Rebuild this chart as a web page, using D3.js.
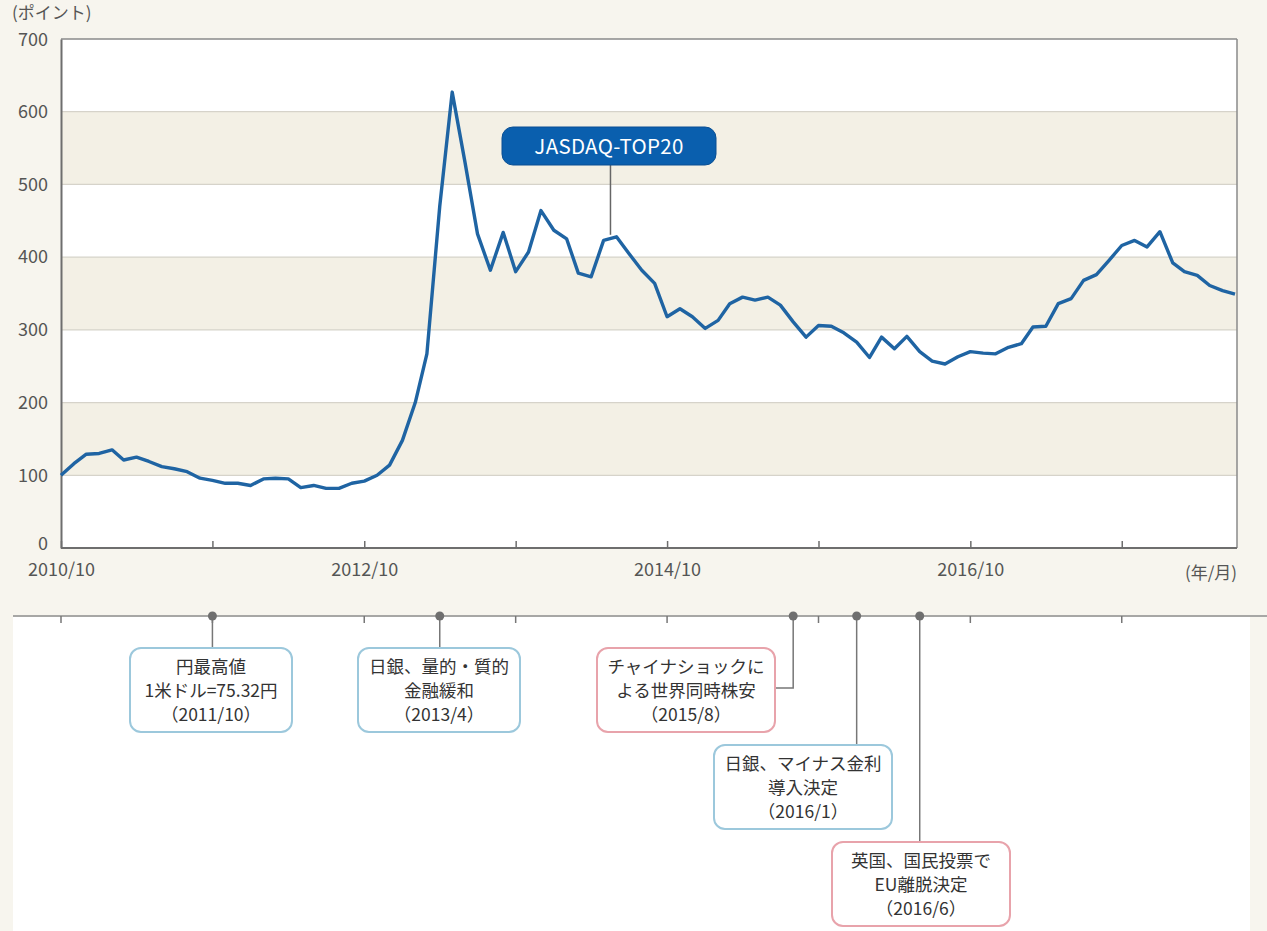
<!DOCTYPE html>
<html><head><meta charset="utf-8">
<script src="https://cdn.jsdelivr.net/npm/d3@7/dist/d3.min.js"></script>
<style>
html,body{margin:0;padding:0;background:#f7f5ee;}
svg{display:block;}
text{font-family:"Noto Sans CJK JP","Noto Sans",sans-serif;}
</style></head>
<body>
<svg id="c" width="1267" height="931"></svg>
<script>
// ---- data ----
const startMonth = "2010-10";
const values = [100,116,129,130,135,121,125,119,112,109,105,96,
  93,89,89,86,95,96,95,83,86,82,82,89,
  92,100,114,148,200,267,470,627,530,432,382,434,
  380,407,464,437,425,378,373,423,428,405,382,364,
  318,329,318,302,313,336,345,341,345,334,311,290,
  306,305,296,283,262,290,274,291,270,257,253,263,
  270,268,267,276,281,304,305,336,343,368,376,396,
  416,423,414,435,392,380,375,361,354,349];
const yTicks = [0,100,200,300,400,500,600,700];
const xTickMonths = ["2010-10","2011-10","2012-10","2013-10","2014-10","2015-10","2016-10","2017-10"];
const xTickLabels = ["2010/10","","2012/10","","2014/10","","2016/10",""];
const seriesName = "JASDAQ-TOP20";
const events = [
  {date:"2011-10", lines:["円最高値","1米ドル=75.32円","（2011/10）"], kind:"blue"},
  {date:"2013-04", lines:["日銀、量的・質的","金融緩和","（2013/4）"], kind:"blue"},
  {date:"2015-08", lines:["チャイナショックに","よる世界同時株安","（2015/8）"], kind:"red"},
  {date:"2016-01", lines:["日銀、マイナス金利","導入決定","（2016/1）"], kind:"blue"},
  {date:"2016-06", lines:["英国、国民投票で","EU離脱決定","（2016/6）"], kind:"red"}
];
// ---- layout ----
const W=1267,H=931;
const L=61,R=1237,T=39,B=548;
const parse = d3.timeParse("%Y-%m");
const t0 = parse(startMonth);
const dates = values.map((v,i)=>d3.timeMonth.offset(t0,i));
const data = values.map((v,i)=>({d:dates[i],v}));
const x = d3.scaleTime().domain([t0, d3.timeMonth.offset(t0, values.length-1)]).range([L, 1235]);
const y = d3.scaleLinear().domain([0,700]).range([B,T]);
const numFont = "'Open Sans','Noto Sans',sans-serif";

const svg = d3.select("#c");
svg.append("rect").attr("width",W).attr("height",H).attr("fill","#f7f5ee");
// lower white panel
svg.append("rect").attr("x",13).attr("y",617).attr("width",1237).attr("height",H-617).attr("fill","#ffffff");

// plot background
svg.append("rect").attr("x",L).attr("y",T).attr("width",R-L).attr("height",B-T).attr("fill","#ffffff");
// bands
[100,300,500].forEach(v=>{
  svg.append("rect").attr("x",L).attr("y",y(v+100)).attr("width",R-L).attr("height",y(v)-y(v+100)).attr("fill","#f3f0e5");
});
// grid
svg.append("g").selectAll("line").data(yTicks.filter(v=>v>0 && v<700)).join("line")
  .attr("x1",L).attr("x2",R).attr("y1",d=>y(d)).attr("y2",d=>y(d))
  .attr("stroke","#d6d3ca").attr("stroke-width",1.2);
// frame
svg.append("line").attr("x1",L).attr("x2",R).attr("y1",T).attr("y2",T).attr("stroke","#8a8a8a").attr("stroke-width",1.5);
svg.append("line").attr("x1",R).attr("x2",R).attr("y1",T).attr("y2",B).attr("stroke","#8a8a8a").attr("stroke-width",1.5);

// y axis
const yAxis = d3.axisLeft(y).tickValues(yTicks).tickSize(0).tickPadding(13);
const gy = svg.append("g").attr("transform",`translate(${L},0)`).call(yAxis);
gy.select(".domain").attr("stroke","#6e6e6e").attr("stroke-width",2);
gy.selectAll("text").attr("font-size",18).attr("fill","#555").attr("font-family",numFont);
gy.selectAll(".tick").filter(d=>d===700).select("text").attr("dy","0.36em");
gy.selectAll(".tick").filter(d=>d===0).select("text").attr("dy","0.1em");

// x axis
const xtv = xTickMonths.map(parse);
const xAxis = d3.axisBottom(x).tickValues(xtv).tickSizeInner(-7).tickSizeOuter(0).tickPadding(15)
  .tickFormat((d,i)=>xTickLabels[i]);
const gx = svg.append("g").attr("transform",`translate(0,${B})`).call(xAxis);
gx.select(".domain").attr("stroke","#6e6e6e").attr("stroke-width",2).attr("d",`M${L},0H${R}`);
gx.selectAll(".tick line").attr("stroke","#6e6e6e").attr("stroke-width",1.5);
gx.selectAll("text").attr("font-size",18).attr("fill","#555").attr("font-family",numFont);

svg.append("text").attr("x",1211).attr("y",579).attr("text-anchor","middle").attr("font-size",17).attr("fill","#555").text("(年/月)");
svg.append("text").attr("x",12).attr("y",19).attr("font-size",17).attr("fill","#555").text("(ポイント)");

// line
const line = d3.line().x(d=>x(d.d)).y(d=>y(d.v));
svg.append("path").datum(data).attr("d",line).attr("fill","none")
  .attr("stroke","#1f64a3").attr("stroke-width",3.4).attr("stroke-linejoin","round");

// series label
const lblIdx = 44;
const lx = x(dates[lblIdx])-6;
svg.append("line").attr("x1",lx).attr("x2",lx).attr("y1",164).attr("y2",y(values[lblIdx])-2).attr("stroke","#666").attr("stroke-width",1.5);
svg.append("rect").attr("x",502).attr("y",127).attr("width",214).attr("height",38).attr("rx",11)
  .attr("fill","#0a5fae").attr("stroke","#0a4f93").attr("stroke-width",1);
svg.append("text").attr("x",609).attr("y",153.5).attr("text-anchor","middle").attr("font-size",20.5)
  .attr("fill","#ffffff").attr("font-family",numFont).attr("letter-spacing","0.3").text(seriesName);

// timeline
const TY=616;
svg.append("line").attr("x1",13).attr("x2",W).attr("y1",TY).attr("y2",TY).attr("stroke","#8c8c8c").attr("stroke-width",1.6);
svg.append("g").selectAll("line").data(xtv).join("line")
  .attr("x1",d=>x(d)).attr("x2",d=>x(d)).attr("y1",TY).attr("y2",TY+7).attr("stroke","#777").attr("stroke-width",1.5);

const boxes = [
  {x:130,y:648,w:162},
  {x:358,y:648,w:162},
  {x:597,y:648,w:178},
  {x:714,y:745,w:178},
  {x:832,y:842,w:178}
];
const bh=84;
events.forEach((e,i)=>{
  const ex = x(parse(e.date));
  const b = boxes[i];
  const col = e.kind==="blue" ? "#9cc8dc" : "#e8a3ab";
  if(i===2){
    svg.append("path").attr("d",`M${ex},${TY}V${b.y+40}H${b.x+b.w}`).attr("fill","none").attr("stroke","#777").attr("stroke-width",1.5);
  } else {
    svg.append("line").attr("x1",ex).attr("x2",ex).attr("y1",TY).attr("y2",b.y).attr("stroke","#777").attr("stroke-width",1.5);
  }
  svg.append("circle").attr("cx",ex).attr("cy",TY).attr("r",4.5).attr("fill","#6f6f6f");
  svg.append("rect").attr("x",b.x).attr("y",b.y).attr("width",b.w).attr("height",bh).attr("rx",11)
    .attr("fill","#ffffff").attr("stroke",col).attr("stroke-width",2);
  const cx = b.x+b.w/2;
  e.lines.forEach((s,j)=>{
    svg.append("text").attr("x",cx).attr("y",b.y+25+j*24).attr("text-anchor","middle")
      .attr("font-size",17.5).attr("fill","#333").text(s);
  });
});
</script>
</body></html>
